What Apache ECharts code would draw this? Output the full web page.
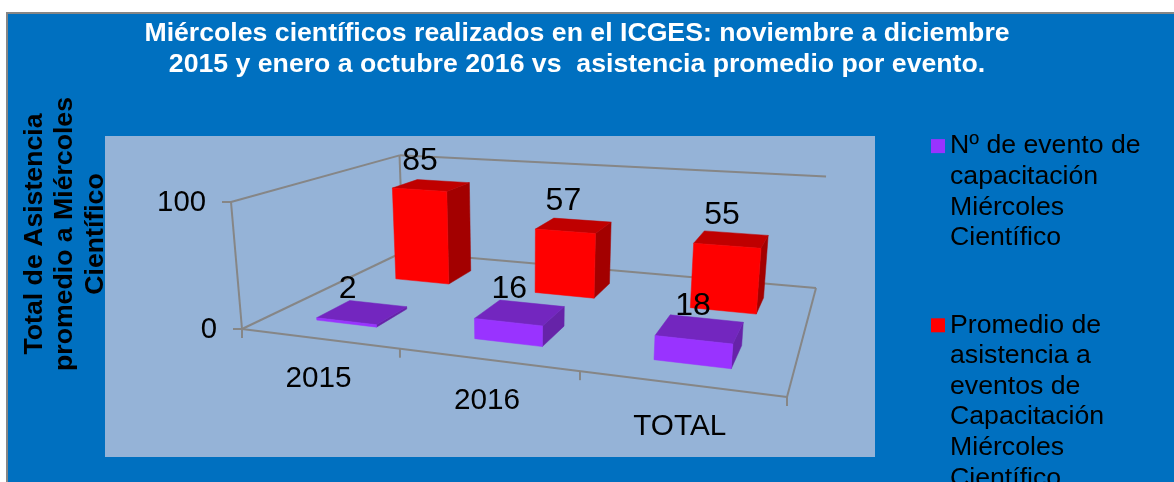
<!DOCTYPE html>
<html>
<head>
<meta charset="utf-8">
<style>html,body{margin:0;padding:0;background:#fff;overflow:hidden}#c{width:1174px;height:482px}</style>
<script src="https://cdn.jsdelivr.net/npm/echarts@6/dist/echarts.min.js"></script>
</head>
<body>
<div id="c"></div>
<script>
// ---------- data ----------
const categories = ['2015', '2016', 'TOTAL'];
const eventCounts = [2, 16, 18];
const attendance = [85, 57, 55];
const valueTicks = [0, 100];
const seriesNames = [
  'Nº de evento de capacitación Miércoles Científico',
  'Promedio de asistencia a eventos de Capacitación Miércoles Científico'
];
const legendLines = [
  ['Nº de evento de', 'capacitación', 'Miércoles', 'Científico'],
  ['Promedio de', 'asistencia a', 'eventos de', 'Capacitación', 'Miércoles', 'Científico']
];
const titleLines = [
  'Miércoles científicos realizados en el ICGES: noviembre a diciembre',
  '2015 y enero a octubre 2016 vs  asistencia promedio por evento'
];
const yTitleLines = ['Total de Asistencia', 'promedio a Miércoles', 'Científico'];

// ---------- camera: maps (u along categories, v into depth, h up) to the screen ----------
const FONT = '"Liberation Sans", Arial, sans-serif';
const floorQuad = [[242, 329], [787, 397], [816, 288], [403, 252]];
const vanish = [521.6, 3557];
const topFrontLeftY = 202;
function makeCamera() {
  const [[x0, y0], [x1, y1], [x2, y2], [x3, y3]] = floorQuad;
  const dx1 = x1 - x2, dx2 = x3 - x2, sx = x0 - x1 + x2 - x3;
  const dy1 = y1 - y2, dy2 = y3 - y2, sy = y0 - y1 + y2 - y3;
  const det = dx1 * dy2 - dx2 * dy1;
  const g = (sx * dy2 - dx2 * sy) / det;
  const h = (dx1 * sy - sx * dy1) / det;
  const a = x1 - x0 + g * x1, b = x3 - x0 + h * x3;
  const d = y1 - y0 + g * y1, e = y3 - y0 + h * y3;
  const k = (topFrontLeftY - y0) / (vanish[1] - topFrontLeftY);
  return function (u, v, t) {
    const w = g * u + h * v + 1 + k * t;
    return [
      (a * u + b * v + x0 + k * t * vanish[0]) / w,
      (d * u + e * v + y0 + k * t * vanish[1]) / w
    ];
  };
}
const project = makeCamera();

const BAND_FILL = 0.393;          // bar width as a share of a category band
const U_NUDGE = [0.002, 0.003];   // small sideways offset of each series within its band
const DEPTH = { 0: [0.145, 0.335], 1: [0.64, 0.825] };  // depth slots of the two series
const PALETTE = [
  { front: '#9933FF', top: '#7326BF', side: '#6623A8' },
  { front: '#FF0000', top: '#BF0000', side: '#A30000' }
];
const LABEL_SHIFT = [[-17, 12, -23], [-12, 3, -24.5]];

function poly(points, fill) {
  return { type: 'polygon', shape: { points }, style: { fill, stroke: fill, lineWidth: 0.5 } };
}
function barRenderer(slot) {
  return function (params, api) {
    const cs = params.coordSys;
    const p = api.coord([api.value(0), api.value(1)]);
    const half = api.size([1, 0])[0] * BAND_FILL / 2 / cs.width;
    const uc = (p[0] - cs.x) / cs.width + U_NUDGE[slot];
    const t = (cs.y + cs.height - p[1]) / cs.height;
    const [v0, v1] = DEPTH[slot];
    const u0 = uc - half, u1 = uc + half;
    const col = PALETTE[slot];
    const front = [[u0, v0, 0], [u1, v0, 0], [u1, v0, t], [u0, v0, t]].map(q => project(...q));
    const side = [[u1, v0, 0], [u1, v1, 0], [u1, v1, t], [u1, v0, t]].map(q => project(...q));
    const top = [[u0, v0, t], [u1, v0, t], [u1, v1, t], [u0, v1, t]].map(q => project(...q));
    const c = project(uc, (v0 + v1) / 2, t);
    const s = LABEL_SHIFT[slot];
    return {
      type: 'group',
      children: [
        poly(side, col.side), poly(top, col.top), poly(front, col.front),
        { type: 'text', z2: 5, style: {
            text: String(api.value(1)), x: c[0] + s[0] + s[1] * uc, y: c[1] + s[2],
            font: '32px ' + FONT, fill: '#000', align: 'center', verticalAlign: 'middle' } }
      ]
    };
  };
}
function segment(a, b) {
  return { type: 'line', shape: { x1: a[0], y1: a[1], x2: b[0], y2: b[1] },
           style: { stroke: '#868686', lineWidth: 2 } };
}
function frameRenderer(params, api) {
  const cs = params.coordSys;
  const kids = [];
  const n = categories.length;
  valueTicks.forEach(function (val) {
    const t = (cs.y + cs.height - api.coord([0, val])[1]) / cs.height;
    const fl = project(0, 0, t), bl = project(0, 1, t), br = project(1, 1, t);
    kids.push(segment(fl, bl), segment(bl, br));
    kids.push(segment([fl[0] - 9, fl[1]], fl));
    kids.push({ type: 'text', style: { text: String(val), x: fl[0] - 25, y: fl[1] + 1, font: '29.3px ' + FONT,
      fill: '#000', align: 'right', verticalAlign: 'middle' } });
  });
  kids.push(segment(project(0, 0, 0), project(0, 0, 1)));
  kids.push(segment(project(0, 1, 0), project(0, 1, 1)));
  kids.push(segment(project(0, 0, 0), project(1, 0, 0)));
  kids.push(segment(project(1, 0, 0), project(1, 1, 0)));
  for (let i = 0; i <= n; i++) {
    const p = project(i / n, 0, 0);
    kids.push(segment(p, [p[0], p[1] + 9]));
  }
  categories.forEach(function (name, i) {
    const x = api.coord([i, 0])[0];
    const u = (x - cs.x) / cs.width;
    const p = project(u, 0, 0);
    kids.push({ type: 'text', style: { text: name, x: p[0], y: p[1] + 40.5 + 3.5 * u * u, font: '29.7px ' + FONT,
      fill: '#000', align: 'center', verticalAlign: 'middle' } });
  });
  return { type: 'group', children: kids };
}
function legendFor(i, top) {
  const lines = legendLines[i];
  const pad = new Array(lines.length - 1).fill('').join('\n') + '\n';
  return {
    left: 931, top, orient: 'vertical', padding: 0, selectedMode: false,
    itemWidth: 14, itemHeight: 14, itemGap: 0, icon: 'rect',
    data: [seriesNames[i]],
    formatter: () => pad + lines.join('\n'),
    textStyle: { fontFamily: FONT, fontSize: 26.67, lineHeight: 30.6, color: '#000', padding: [0, 0, 0, 0] }
  };
}

const chart = echarts.init(document.getElementById('c'), null, { renderer: 'canvas' });
chart.setOption({
  animation: false,
  backgroundColor: '#fff',
  title: {
    left: 577, top: 18, textAlign: 'center', padding: 0,
    text: '{b|' + titleLines[0] + '}\n{b|' + titleLines[1] + '}{n|.}',
    textStyle: {
      rich: {
        b: { fontFamily: FONT, fontSize: 26.67, fontWeight: 'bold', color: '#fff', lineHeight: 31 },
        n: { fontFamily: FONT, fontSize: 26.67, color: '#fff', lineHeight: 31 }
      }
    }
  },
  legend: [legendFor(0, 39), legendFor(1, 157)],
  graphic: [
    { type: 'rect', z: 0, silent: true, shape: { x: 7, y: 13, width: 1180, height: 480 },
      style: { fill: '#0070C0', stroke: '#868686', lineWidth: 2 } },
    { type: 'rect', z: 0, silent: true, shape: { x: 105, y: 136, width: 770, height: 321 },
      style: { fill: '#95B3D7' } },
    { type: 'text', z: 1, silent: true, x: 65, y: 234, rotation: Math.PI / 2,
      style: { text: yTitleLines.join('\n'), font: 'bold 26.67px ' + FONT, lineHeight: 30.5,
        fill: '#000', align: 'center', verticalAlign: 'middle' } }
  ],
  grid: { left: 242, top: 202, width: 545, height: 127 },
  xAxis: { type: 'category', data: categories, show: false },
  yAxis: { type: 'value', min: 0, max: 100, interval: 100, show: false },
  series: [
    { type: 'custom', name: 'marco', z: 2, silent: true, clip: false, renderItem: frameRenderer,
      data: [[0, 0]], encode: { x: 0, y: 1 } },
    { type: 'custom', name: seriesNames[1], z: 3, silent: true, clip: false, renderItem: barRenderer(1),
      itemStyle: { color: PALETTE[1].front },
      data: attendance.map((v, i) => [i, v]), encode: { x: 0, y: 1 } },
    { type: 'custom', name: seriesNames[0], z: 4, silent: true, clip: false, renderItem: barRenderer(0),
      itemStyle: { color: PALETTE[0].front },
      data: eventCounts.map((v, i) => [i, v]), encode: { x: 0, y: 1 } }
  ]
});
</script>
</body>
</html>
